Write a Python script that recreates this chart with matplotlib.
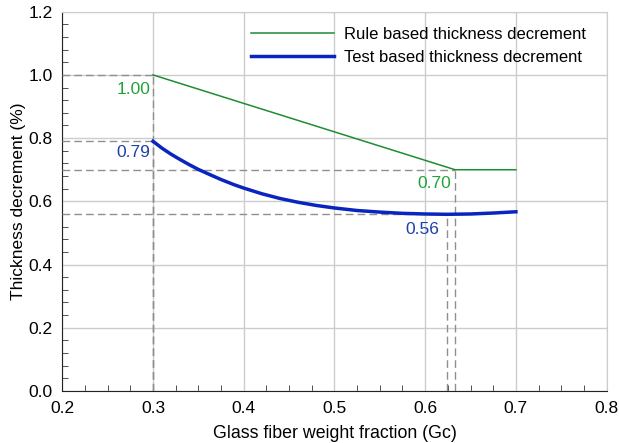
import numpy as np
import matplotlib
matplotlib.use("Agg")
import matplotlib.pyplot as plt
from matplotlib.ticker import MultipleLocator

plt.rcParams['font.family'] = ['Liberation Sans', 'DejaVu Sans']

# rule based curve (linear, then flat)
gc_rule = [0.3, 0.633, 0.7]
td_rule = [1.0, 0.70, 0.70]

# test based curve
gc_test = [0.30, 0.31, 0.32, 0.33, 0.34, 0.35, 0.36, 0.375, 0.39, 0.40, 0.42, 0.44,
           0.46, 0.48, 0.50, 0.525, 0.55, 0.575, 0.60, 0.624, 0.65, 0.675, 0.70]
td_test = [0.790, 0.768, 0.749, 0.732, 0.716, 0.701, 0.688, 0.669, 0.652, 0.642, 0.624, 0.609,
           0.597, 0.587, 0.579, 0.571, 0.566, 0.562, 0.560, 0.559, 0.560, 0.563, 0.567]

# reference points
ref_x = [0.3, 0.3, 0.633, 0.624]
ref_y = [1.00, 0.79, 0.70, 0.56]
ref_txt = ['1.00', '0.79', '0.70', '0.56']

green = '#1e8c32'
green_txt = '#21a33c'
blue = '#0a24c0'
blue_txt = '#1c40a8'

fig = plt.figure(figsize=(6.19, 4.43), dpi=100)
ax = fig.add_axes([0.1006, 0.1174, 0.8794, 0.8562])

ax.plot(gc_rule, td_rule, color=green, lw=1.1, label='Rule based thickness decrement', zorder=4)
ax.plot(gc_test, td_test, color=blue, lw=2.5, label='Test based thickness decrement', zorder=4)

for xx, yy in zip(ref_x, ref_y):
    ax.plot([0.2, xx], [yy, yy], color='#8f8f8f', lw=1.0, ls=(0, (5.5, 3)), zorder=3)
    ax.plot([xx, xx], [0, yy], color='#8f8f8f', lw=1.0, ls=(0, (5.5, 3)), zorder=3)

cols = [green_txt, blue_txt, green_txt, blue_txt]
offs = [(-0.003, -0.045), (-0.003, -0.035), (-0.004, -0.045), (-0.008, -0.048)]
for xx, yy, t, c, o in zip(ref_x, ref_y, ref_txt, cols, offs):
    ax.text(xx + o[0], yy + o[1], t, color=c, fontsize=12.5, ha='right', va='center', zorder=5)

ax.set_xlim(0.2, 0.8)
ax.set_ylim(0.0, 1.2)
ax.xaxis.set_major_locator(MultipleLocator(0.1))
ax.xaxis.set_minor_locator(MultipleLocator(0.025))
ax.yaxis.set_major_locator(MultipleLocator(0.2))
ax.yaxis.set_minor_locator(MultipleLocator(0.04))
ax.set_xticklabels([f'{v:.1f}' for v in ax.get_xticks()])
ax.set_yticklabels([f'{v:.1f}' for v in ax.get_yticks()])
ax.tick_params(which='both', direction='in', labelsize=12.5, color='#333333')
ax.tick_params(which='major', length=0)
ax.tick_params(axis='y', which='major', pad=7)
ax.tick_params(axis='x', which='major', pad=7)
ax.tick_params(which='minor', length=4)
ax.grid(True, which='major', color='#cccccc', lw=1)
for s in ['top', 'right']:
    ax.spines[s].set_color('#cccccc')
for s in ['left', 'bottom']:
    ax.spines[s].set_color('#222222')

ax.set_xlabel('Glass fiber weight fraction (Gc)', fontsize=12.8, labelpad=7)
ax.set_ylabel('Thickness decrement (%)', fontsize=12.5, labelpad=2)

ax.legend(loc='upper right', frameon=False, fontsize=12, handlelength=5.0,
          handletextpad=0.6, bbox_to_anchor=(0.99, 1.0), labelspacing=0.5)

fig.savefig('out.png', dpi=100)
